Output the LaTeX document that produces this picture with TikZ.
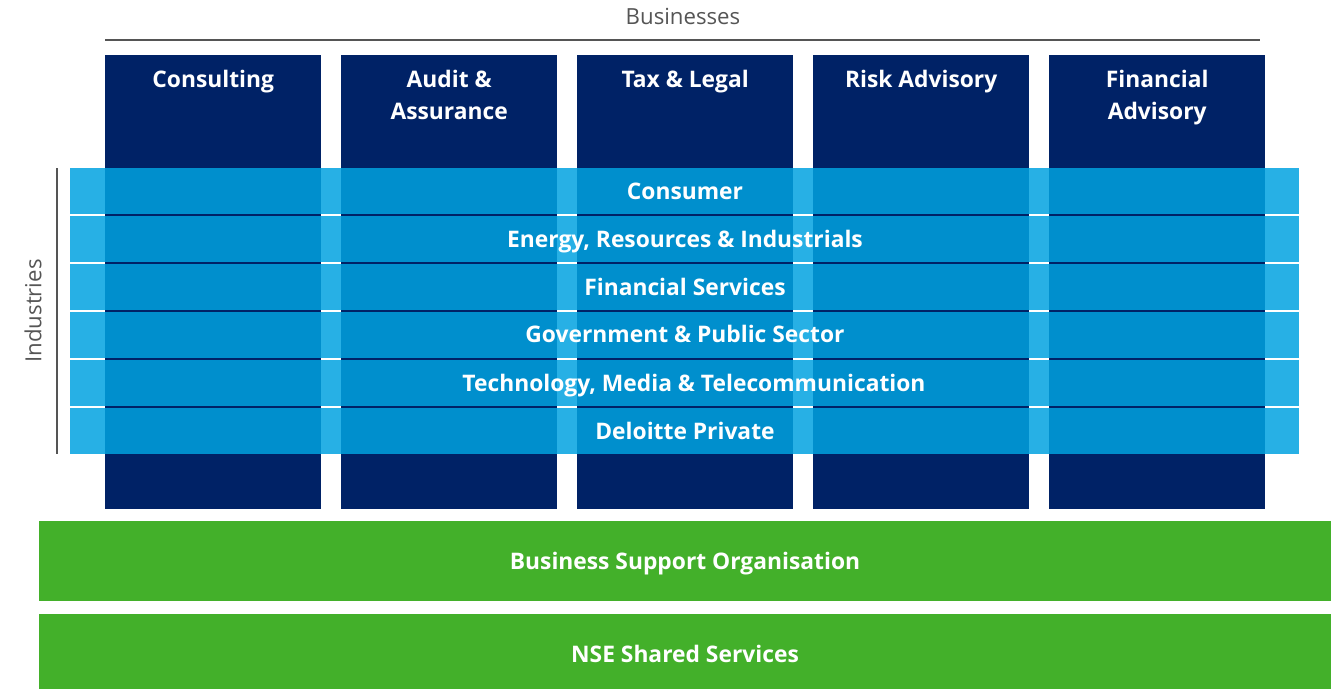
\documentclass[tikz,border=0pt]{standalone}
\usepackage{fontspec}
\setmainfont{Open Sans}
\definecolor{navy}{HTML}{002266}
\definecolor{lblue}{HTML}{27B0E5}
\definecolor{mblue}{HTML}{008FCD}
\definecolor{dgreen}{HTML}{43B02A}
\definecolor{tgray}{HTML}{555555}
\tikzset{
  colbox/.style={fill=navy, draw=none, inner sep=0pt, anchor=north west, minimum width=216pt, minimum height=454pt},
  coltext/.style={text=white, font=\bfseries\fontsize{22.8}{32}\selectfont, align=center, anchor=north, inner sep=0pt},
  bandbox/.style={fill=lblue, draw=none, inner sep=0pt, anchor=north west, minimum width=1229pt, minimum height=46pt},
  bandtext/.style={text=white, font=\bfseries\fontsize{22.8}{26}\selectfont, inner sep=0pt, text height=16.3pt, text depth=0pt},
  greenbox/.style={fill=dgreen, draw=none, inner sep=0pt, anchor=north west, minimum width=1292pt},
  axislabel/.style={text=tgray, font=\fontsize{22.2}{26}\selectfont, inner sep=0pt},
  axisline/.style={draw=tgray, line width=1.4pt}
}
\begin{document}
\begin{tikzpicture}[x=1pt,y=-1pt]
\useasboundingbox (0,0) rectangle (1344,689);
% Businesses header
\node[axislabel] (bus) at (683,16) {Businesses};
\coordinate (tl) at (105,40);
\coordinate (tr) at (1260,40);
\draw[axisline] (tl) -- (tr);
% columns
\foreach \i/\x in {1/105,2/341,3/577,4/813,5/1049}{
  \node[colbox] (c\i) at (\x,55) {};
}
\node[coltext] (c1t) at ([yshift=-15pt]c1.north) {Consulting};
\node[coltext] (c2t) at ([yshift=-15pt]c2.north) {Audit \&\\Assurance};
\node[coltext] (c3t) at ([yshift=-15pt]c3.north) {Tax \& Legal};
\node[coltext] (c4t) at ([yshift=-15pt]c4.north) {Risk Advisory};
\node[coltext] (c5t) at ([yshift=-15pt]c5.north) {Financial\\Advisory};
% industry bands
\foreach \j in {0,...,5}{
  \pgfmathsetmacro{\yy}{168+48*\j}
  \node[bandbox] (b\j) at (70,\yy) {};
  \foreach \i in {1,...,5}{
    \fill[mblue] (c\i.west |- b\j.north) rectangle (c\i.east |- b\j.south);
  }
}
\node[bandtext] (t0) at (685,191) {Consumer};
\node[bandtext] (t1) at (685,239) {Energy, Resources \& Industrials};
\node[bandtext] (t2) at (685,287) {Financial Services};
\node[bandtext] (t3) at (685,334) {Government \& Public Sector};
\node[bandtext] (t4) at (694,383) {Technology, Media \& Telecommunication};
\node[bandtext] (t5) at (685,431) {Deloitte Private};
% Industries axis
\coordinate (vt) at (57,168);
\coordinate (vb) at (57,454);
\draw[axisline] (vt) -- (vb);
\node[axislabel, rotate=90] (ind) at (33,311) {Industries};
% green bars
\node[greenbox, minimum height=80pt] (g1) at (39,521) {};
\node[bandtext] (g1t) at (685,561) {Business Support Organisation};
\node[greenbox, minimum height=75pt] (g2) at (39,614) {};
\node[bandtext] (g2t) at (685,654) {NSE Shared Services};
\end{tikzpicture}
\end{document}
